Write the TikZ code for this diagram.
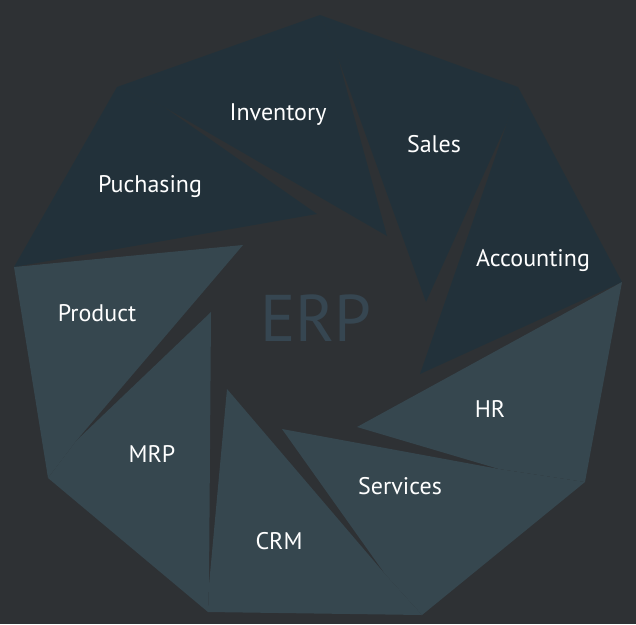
\documentclass[tikz,border=0pt]{standalone}
\usepackage{fontspec}
\setmainfont{PT Sans}
\definecolor{bgcol}{HTML}{2E3134}
\definecolor{darkblade}{HTML}{22313A}
\definecolor{lightblade}{HTML}{36474F}
\definecolor{erpcol}{HTML}{364651}
\tikzset{
  part/.style={text=white,font=\fontsize{24}{28}\selectfont},
  title/.style={text=erpcol,font=\fontsize{66}{78}\selectfont}
}

\begin{document}
\begin{tikzpicture}[x=1pt,y=-1pt]
\fill[bgcol] (0,0) rectangle (636,624);
\useasboundingbox (0,0) rectangle (636,624);
% outline corners
\coordinate (top) at (320,15);
\coordinate (ur) at (518,87);
\coordinate (r) at (622,282);
\coordinate (lr) at (585,482);
\coordinate (br) at (422,615);
\coordinate (bl) at (208,612);
\coordinate (ll) at (48,478);
\coordinate (l) at (14,267);
\coordinate (ul) at (117,87);
% blade tips
\coordinate (tpuch) at (317,214);
\coordinate (tinv) at (387,236);
\coordinate (tsal) at (426,302);
\coordinate (tacc) at (420,374);
\coordinate (thr) at (357,427);
\coordinate (tserv) at (282,429);
\coordinate (tcrm) at (227,389);
\coordinate (tmrp) at (211,312);
\coordinate (tprod) at (243,245);
% where two blades part
\coordinate (wpi) at (164,107);
\coordinate (wis) at (338,58);
\coordinate (wsa) at (507,123);
\coordinate (whs) at (499,469);
\coordinate (wsc) at (385,574);
\coordinate (wcm) at (209,585);
\coordinate (wmp) at (76,441);
% top blades
\fill[darkblade] (ul) -- (l) -- (tpuch) -- (wpi) -- cycle;
\fill[darkblade] (ul) -- (wpi) -- (tinv) -- (wis) -- (top) -- cycle;
\fill[darkblade] (top) -- (wis) -- (tsal) -- (wsa) -- (ur) -- cycle;
\fill[darkblade] (ur) -- (wsa) -- (tacc) -- (r) -- cycle;
% bottom blades
\fill[lightblade] (r) -- (thr) -- (whs) -- (lr) -- cycle;
\fill[lightblade] (lr) -- (whs) -- (tserv) -- (wsc) -- (br) -- cycle;
\fill[lightblade] (br) -- (wsc) -- (tcrm) -- (wcm) -- (bl) -- cycle;
\fill[lightblade] (bl) -- (wcm) -- (tmrp) -- (wmp) -- (ll) -- cycle;
\fill[lightblade] (ll) -- (wmp) -- (tprod) -- (l) -- cycle;
\node[title] (erp) at (316,318) {ERP};
\node[part] (inv) at (278,115) {Inventory};
\node[part] (sal) at (434,144) {Sales};
\node[part] (puch) at (150,187) {Puchasing};
\node[part] (acc) at (533,261) {Accounting};
\node[part] (prod) at (97,313) {Product};
\node[part] (hr) at (490,409) {HR};
\node[part] (mrp) at (152,454) {MRP};
\node[part] (serv) at (400,486) {Services};
\node[part] (crm) at (279,541) {CRM};
\end{tikzpicture}
\end{document}
